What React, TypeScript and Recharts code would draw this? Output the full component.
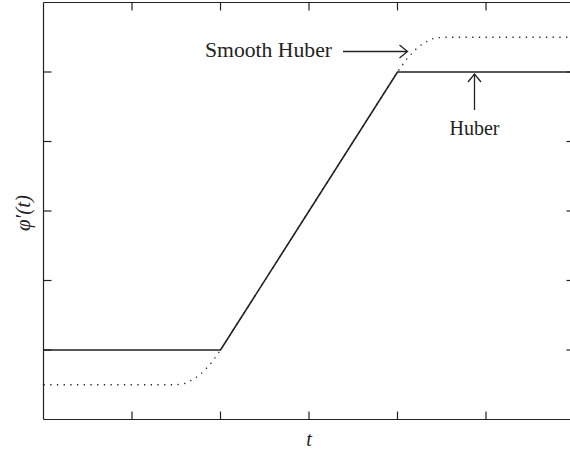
import { LineChart, Line, XAxis, YAxis } from 'recharts';

// piecewise Huber influence function
const huberT = [-3, -1, 1, 3];
const huberPsi = [-2, -2, 2, 2];

// smooth variant
const smoothT = [-3, -1.5, -1.4, -1.3, -1.2, -1.1, -1, 1, 1.1, 1.2, 1.3, 1.4, 1.5, 3];
const smoothPsi = [-2.5, -2.5, -2.48, -2.42, -2.32, -2.18, -2, 2, 2.18, 2.32, 2.42, 2.48, 2.5, 2.5];

const axisTicks = [-2, -1, 0, 1, 2];
const axisDomain = [-3, 3];

const huberData = huberT.map((t, i) => ({ t, psi: huberPsi[i] }));
const smoothData = smoothT.map((t, i) => ({ t, psi: smoothPsi[i] }));

const ink = '#222';
const serif = '"Liberation Serif", "DejaVu Serif", serif';

export default function App() {
  const axisProps = {
    type: 'number' as const,
    domain: axisDomain,
    ticks: axisTicks,
    mirror: true,
    tickFormatter: () => '',
    tickSize: 8,
    tickLine: { stroke: ink, strokeWidth: 1.2 },
    stroke: ink,
    strokeWidth: 1.2,
    allowDataOverflow: true,
  };

  return (
    <div style={{ position: 'absolute', left: 0, top: 0, width: 570, height: 450, overflow: 'hidden', background: '#fff' }}>
      <LineChart width={580} height={450} data={huberData} margin={{ top: 2.5, right: 5.5, bottom: 30.5, left: 43.5 }}>
        <XAxis {...axisProps} dataKey="t" xAxisId="bottom" orientation="bottom" height={1} />
        <XAxis {...axisProps} dataKey="t" xAxisId="top" orientation="top" height={1} />
        <YAxis {...axisProps} yAxisId="left" orientation="left" width={1} />
        <YAxis {...axisProps} yAxisId="right" orientation="right" width={1} />
        <Line
          data={smoothData}
          xAxisId="bottom"
          yAxisId="left"
          dataKey="psi"
          type="linear"
          stroke={ink}
          strokeWidth={1.3}
          strokeDasharray="1.3 5.4"
          dot={false}
          isAnimationActive={false}
        />
        <Line
          data={huberData}
          xAxisId="bottom"
          yAxisId="left"
          dataKey="psi"
          type="linear"
          stroke={ink}
          strokeWidth={1.6}
          dot={false}
          isAnimationActive={false}
        />
        {/* invisible twin so the top/right frame axes are bound to a series */}
        <Line
          data={huberData}
          xAxisId="top"
          yAxisId="right"
          dataKey="psi"
          stroke="none"
          dot={false}
          legendType="none"
          isAnimationActive={false}
        />
      </LineChart>

      {/* annotations */}
      <svg width={570} height={450} style={{ position: 'absolute', left: 0, top: 0, pointerEvents: 'none' }}>
        <g style={{ fontFamily: serif }} fill={ink}>
          <text x={205} y={57} fontSize={20} textLength={127} lengthAdjust="spacingAndGlyphs">Smooth Huber</text>
          <text x={474.5} y={135} fontSize={20} textAnchor="middle">Huber</text>
          <text x={309} y={446} fontSize={20} fontStyle="italic" textAnchor="middle">t</text>
          <text x={0} y={0} fontSize={21} fontStyle="italic" textAnchor="middle" transform="translate(30,213) rotate(-90)">
            φ′(t)
          </text>
        </g>
        <g stroke={ink} strokeWidth={1.3} fill="none">
          <line x1={343} y1={51.5} x2={407} y2={51.5} />
          <polyline points="399.5,45 407.5,51.5 399.5,58" />
          <line x1={474.5} y1={110} x2={474.5} y2={74} />
          <polyline points="468,82 474.5,74 481,82" />
        </g>
      </svg>
    </div>
  );
}
